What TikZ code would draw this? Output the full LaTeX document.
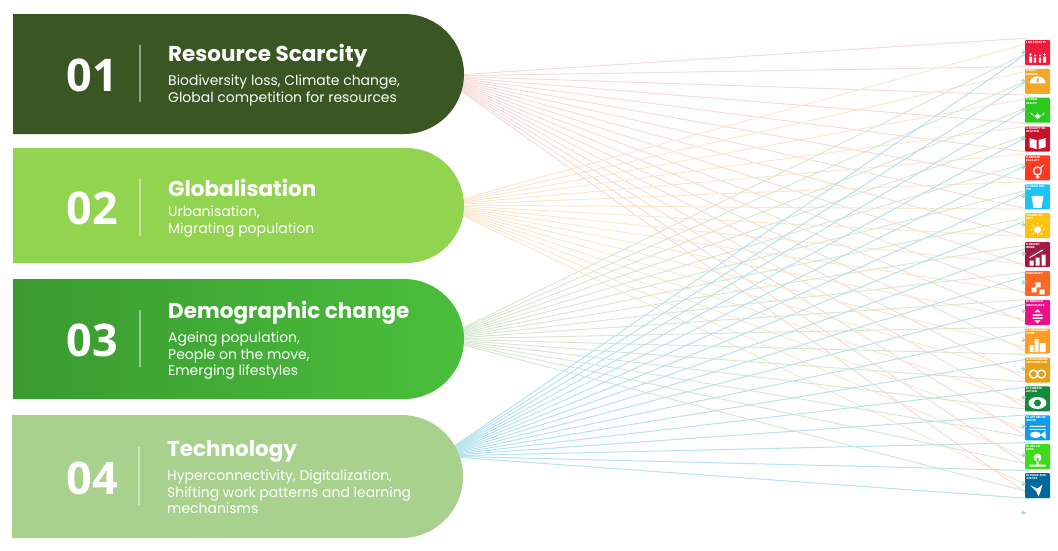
\documentclass[tikz,border=0pt]{standalone}
\usepackage{fontspec}
\setmainfont{Poppins}
\newfontfamily\numfont{Open Sans}
\usetikzlibrary{arrows.meta,shapes.misc}
\definecolor{pillA}{HTML}{3A5623}
\definecolor{pillB}{HTML}{92D350}
\definecolor{pillCl}{HTML}{3A9A30}
\definecolor{pillCr}{HTML}{4ABF3C}
\definecolor{pillD}{HTML}{A9D18E}
\definecolor{fanred}{HTML}{F6DCD9}
\definecolor{fanorange}{HTML}{F9E8CE}
\definecolor{fangreen}{HTML}{D6E9CF}
\definecolor{fanblue}{HTML}{B6E2EE}
\definecolor{tipcol}{HTML}{A6DCC4}
\definecolor{climategreen}{HTML}{148A3C}
\tikzset{
  pill/.style={rounded rectangle,rounded rectangle left arc=none,minimum width=451pt,inner sep=0pt,outer sep=0pt},
  numlabel/.style={text=white,font=\numfont\bfseries\fontsize{45}{45}\selectfont},
  titlelabel/.style={text=white,anchor=west,inner sep=0pt,font=\bfseries\fontsize{21.5}{24}\selectfont},
  bodylabel/.style={text=white,anchor=north west,inner sep=0pt,align=left,font=\fontsize{13.95}{16.4}\selectfont},
  sepline/.style={white,opacity=.45,line width=1.4pt},
  fanline/.style={line width=1pt},
  icon/.style={minimum size=25pt,inner sep=0pt,rounded corners=1pt},
  icontext/.style={text=white,anchor=north west,inner sep=1pt,align=left,font=\bfseries\fontsize{2.8}{3.2}\selectfont},
  tinytip/.style={tipcol,line width=.8pt,-{Stealth[length=4pt,width=5pt]}}
}
\begin{document}
\begin{tikzpicture}[x=1pt,y=-1pt]
\useasboundingbox (0,0) rectangle (1058,550);
\coordinate (srcA) at (440,76);
\coordinate (srcB) at (440,205);
\coordinate (srcC) at (440,339);
\coordinate (srcD) at (440,456);
% fans
\foreach \src/\col/\first/\gap in {srcA/fanred/38/28.56,srcB/fanorange/43/27.7,srcC/fangreen/52/27.5,srcD/fanblue/52/27.9}
  \foreach \k in {0,...,16} {
    \coordinate (\src-\k) at (1029,{\first+\gap*\k});
    \draw[fanline,\col] (\src) -- (\src-\k);
  }
% pills
\node[pill,fill=pillA,minimum height=120pt] (pillone) at (238.5,74) {};
\node[pill,fill=pillB,minimum height=115pt] (pilltwo) at (238.5,205.5) {};
\node[pill,left color=pillCl,right color=pillCr,minimum height=120pt] (pillthree) at (238.5,339) {};
\node[pill,fill=pillD,minimum height=123pt] (pillfour) at (237.5,476.5) {};
\node[numlabel] (numone) at (92,75) {01};
\node[numlabel] (numtwo) at (92,208) {02};
\node[numlabel] (numthree) at (92,340) {03};
\node[numlabel] (numfour) at (92,478) {04};
\draw[sepline] (140,45) -- (140,102);
\draw[sepline] (140,179) -- (140,236);
\draw[sepline] (140,310) -- (140,367);
\draw[sepline] (139,447) -- (139,505);
\node[titlelabel] (titleone) at (168,56) {Resource Scarcity};
\node[titlelabel] (titletwo) at (168,188) {Globalisation};
\node[titlelabel] (titlethree) at (168,313) {Demographic change};
\node[titlelabel] (titlefour) at (167,451) {Technology};
\node[bodylabel] (bodyone) at (168,75) {Biodiversity loss, Climate change,\\Global competition for resources};
\node[bodylabel] (bodytwo) at (168,206) {Urbanisation,\\Migrating population};
\node[bodylabel] (bodythree) at (168,332) {Ageing population,\\People on the move,\\Emerging lifestyles};
\node[bodylabel] (bodyfour) at (167,470) {Hyperconnectivity, Digitalization,\\Shifting work patterns and learning\\mechanisms};
% icons
\foreach \n/\col/\lab in {1/EB1C3C/NO POVERTY,2/F5A827/ZERO HUNGER,3/2BC81E/GOOD HEALTH,4/C8122D/QUALITY EDUCATION,5/FF3A21/GENDER EQUALITY,6/1EC3F5/CLEAN WATER,7/FFC20E/CLEAN ENERGY,8/A21942/DECENT WORK,9/FD6925/INDUSTRY,10/ED0F8A/REDUCED INEQUALITIES,11/FD9D24/SUSTAINABLE CITIES,12/E89F14/RESPONSIBLE CONSUMPTION,13/148A3C/CLIMATE ACTION,14/0F9BE8/LIFE BELOW WATER,15/3DDB1C/LIFE ON LAND,16/00689D/PEACE AND JUSTICE} {
  \definecolor{iconcol}{HTML}{\col}
  \node[icon,fill=iconcol] (goal\n) at (1037.5,{52.5+28.87*(\n-1)}) {};
  \node[icontext,text width=22pt] (goaltext\n) at (goal\n.north west) {\n\ \lab};
}
% pictograms
\fill[white,shift={(goal1.center)}] (-7,2) circle (1.3) (-2.5,3) circle (1.1) (2.5,3) circle (1.1) (7,2) circle (1.3) (-8.5,4) rectangle (-5.5,10) (-3.7,5) rectangle (-1.3,10) (1.3,5) rectangle (3.7,10) (5.5,4) rectangle (8.5,10);
\fill[white,shift={(goal2.center)}] (-8,2) arc (180:0:8 and -7) -- cycle (-1,-3) rectangle (1,1);
\fill[white,shift={(goal3.center)}] (0,9) -- (-7,2) arc (180:0:3.5) arc (180:0:3.5) -- cycle;
\fill[white,shift={(goal4.center)}] (-8,-1) -- (-1,1) -- (-1,10) -- (-8,8) -- cycle (8,-1) -- (1,1) -- (1,10) -- (8,8) -- cycle;
\draw[white,line width=1.3pt,shift={(goal5.center)}] (0,3) circle (4) (0,7) -- (0,11) (-2,9) -- (2,9) (3,0) -- (6,-3);
\fill[white,shift={(goal6.center)}] (-6,-1) -- (6,-1) -- (4,11) -- (-4,11) -- cycle;
\fill[white,shift={(goal7.center)}] (0,4) circle (3.6);
\draw[white,line width=.9pt,shift={(goal7.center)}] (-7,4) -- (-5,4) (5,4) -- (7,4) (0,-3) -- (0,-1) (0,9) -- (0,11) (-5,-1) -- (-3.5,.5) (5,-1) -- (3.5,.5) (-5,9) -- (-3.5,7.5) (5,9) -- (3.5,7.5);
\fill[white,shift={(goal8.center)}] (-8,6) rectangle (-4,11) (-2,3) rectangle (2,11) (4,0) rectangle (8,11);
\draw[white,line width=1pt,-{Stealth[length=3pt]},shift={(goal8.center)}] (-8,3) -- (6,-5);
\fill[white,shift={(goal9.center)}] (-2,-1) rectangle (3,4) (-6,4) rectangle (-1,9) (2,6) rectangle (7,11);
\fill[white,shift={(goal10.center)}] (-5,2) rectangle (5,3.5) (-5,5) rectangle (5,6.5) (0,-3) -- (3,0) -- (-3,0) -- cycle (0,11) -- (3,8) -- (-3,8) -- cycle;
\fill[white,shift={(goal11.center)}] (-8,4) rectangle (-4,11) (-3,-2) rectangle (1,11) (2,2) rectangle (8,11);
\draw[white,line width=1.4pt,shift={(goal12.center)}] (-4,4) circle (4) (4,4) circle (4);
\fill[white,shift={(goal13.center)}] (0,4) ellipse (9 and 6);
\fill[climategreen,shift={(goal13.center)}] (0,4) circle (3.5);
\fill[white,shift={(goal14.center)}] (-2,7) ellipse (5.5 and 3.2) (3,7) -- (8,3) -- (8,11) -- cycle (-8,1) rectangle (8,2) (-8,-2) rectangle (8,-1);
\fill[white,shift={(goal15.center)}] (0,1) circle (4) (-1,1) rectangle (1,8) (-8,8) rectangle (8,10);
\fill[white,shift={(goal16.center)}] (-7,0) -- (0,3) -- (5,-1) -- (3,6) -- (1,11) -- (-1,6) -- cycle;
% arrow tips
\foreach \k in {0,...,16} {
  \coordinate (tipstart\k) at (1021,{52+28.8*\k});
  \coordinate (tipend\k) at (1026,{52+28.8*\k});
  \draw[tinytip] (tipstart\k) -- (tipend\k);
}
\end{tikzpicture}
\end{document}
